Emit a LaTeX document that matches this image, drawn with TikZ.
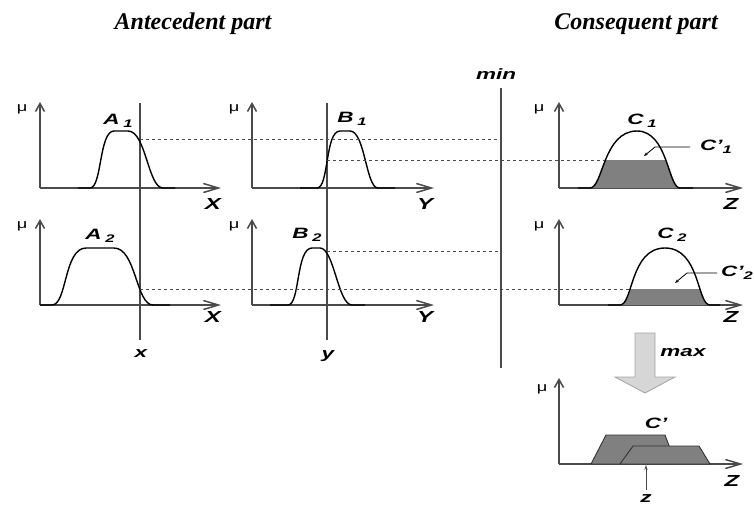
\documentclass[tikz,border=0pt]{standalone}
\usepackage{fontspec}
\setmainfont{Liberation Serif}
\setsansfont{Liberation Sans}
\usetikzlibrary{arrows.meta,positioning}
\definecolor{fuzzaxis}{HTML}{4A4A4A}
\definecolor{fuzzfill}{HTML}{808080}
\definecolor{fuzzarrow}{HTML}{D6D6D6}
\definecolor{fuzzedge}{HTML}{A3A3A3}
\newcommand{\flab}[1]{\scalebox{1.5}[1]{\sffamily\bfseries\itshape #1}}
\newcommand{\fsub}[1]{\raisebox{-3pt}{\fontsize{11}{13}\selectfont #1}}
\newcommand{\fmu}{\scalebox{1.4}[1]{\sffamily\fontsize{13}{15}\selectfont μ}}

\begin{document}
\begin{tikzpicture}[x=1pt,y=-1pt,
    axisx/.style={fuzzaxis,line width=1.5pt,-{Straight Barb[length=15pt,width=9pt]}},
    axisy/.style={fuzzaxis,line width=1.5pt,-{Straight Barb[length=8pt,width=9pt]}},
    mfcurve/.style={black,line width=1.4pt},
    cutline/.style={fuzzaxis,line width=0.6pt,dash pattern=on 3pt off 3pt},
    varline/.style={fuzzaxis,line width=1.2pt},
    lbl/.style={inner sep=0pt,font=\fontsize{15}{18}\selectfont},
    axlbl/.style={inner sep=0pt,font=\fontsize{16}{18}\selectfont},
    leader/.style={black,line width=0.8pt,-{Stealth[length=4pt,width=3pt]}}]
    \useasboundingbox (0,0) rectangle (754,506);

    % titles
    \node[anchor=base,inner sep=0pt,font=\fontsize{24}{28}\selectfont\bfseries\itshape] (ante) at (193,29) {Antecedent part};
    \node[anchor=base,inner sep=0pt,font=\fontsize{24}{28}\selectfont\bfseries\itshape] (cons) at (636,29) {Consequent part};

    % input lines and min line
    \draw[varline] (140,103) -- (140,340);
    \draw[varline] (327,103) -- (327,340);
    \draw[varline] (501,88) -- (501,368);
    \node[lbl] (inx) at (141,354) {\flab{x}};
    \node[lbl] (iny) at (328,356) {\flab{y}};
    \node[lbl] (mintxt) at (496,74) {\flab{min}};

    % axes, row 1
    \draw[axisy] (40,188) -- (40,102);
    \draw[axisx] (40,188) -- (221,188);
    \draw[axisy] (252,188) -- (252,102);
    \draw[axisx] (252,188) -- (434,188);
    \draw[axisy] (559,188) -- (559,102);
    \draw[axisx] (559,188) -- (743,188);
    % axes, row 2
    \draw[axisy] (40,305) -- (40,219);
    \draw[axisx] (40,305) -- (221,305);
    \draw[axisy] (252,305) -- (252,219);
    \draw[axisx] (252,305) -- (434,305);
    \draw[axisy] (559,305) -- (559,219);
    \draw[axisx] (559,305) -- (743,305);
    % axes, result
    \draw[axisy] (559,464) -- (559,378);
    \draw[axisx] (559,464) -- (743,464);

    \node[lbl] (mu1) at (22,109) {\fmu};
    \node[lbl] (mu2) at (234,109) {\fmu};
    \node[lbl] (mu3) at (539,109) {\fmu};
    \node[lbl] (mu4) at (22,226) {\fmu};
    \node[lbl] (mu5) at (234,226) {\fmu};
    \node[lbl] (mu6) at (539,226) {\fmu};
    \node[lbl] (mu7) at (542,389) {\fmu};

    \node[axlbl] (lx1) at (213,204) {\flab{X}};
    \node[axlbl] (ly1) at (425,204) {\flab{Y}};
    \node[axlbl] (lz1) at (731,204) {\flab{Z}};
    \node[axlbl] (lx2) at (213,317) {\flab{X}};
    \node[axlbl] (ly2) at (425,317) {\flab{Y}};
    \node[axlbl] (lz2) at (731,317) {\flab{Z}};
    \node[axlbl] (lz3) at (732,481) {\flab{Z}};

    % shaded cuts of the consequents
    \begin{scope}
        \clip (570,160) rectangle (700,188);
        \fill[fuzzfill] (590,188) .. controls (603,188) and (603,131) .. (637,131) .. controls (668,131) and (668,188) .. (680,188) -- cycle;
    \end{scope}
    \begin{scope}
        \clip (600,289) rectangle (730,305);
        \fill[fuzzfill] (620,305) .. controls (633,305) and (630,248) .. (665,248) .. controls (700,248) and (697,305) .. (710,305) -- cycle;
    \end{scope}

    % membership functions
    \draw[mfcurve] (78,188) -- (90,188) .. controls (102,188) and (99,131) .. (114,131) -- (128,131) .. controls (146,131) and (148,188) .. (163,188) -- (175,188);
    \draw[mfcurve] (300,188) -- (317,188) .. controls (329,188) and (325,131) .. (340,131) -- (350,131) .. controls (365,131) and (366,188) .. (378,188) -- (395,188);
    \draw[mfcurve] (578,188) -- (590,188) .. controls (603,188) and (603,131) .. (637,131) .. controls (668,131) and (668,188) .. (680,188) -- (693,188);
    \draw[mfcurve] (40,305) -- (52,305) .. controls (67,305) and (64,248) .. (86,248) -- (114,248) .. controls (136,248) and (136,305) .. (153,305) -- (170,305);
    \draw[mfcurve] (270,305) -- (288,305) .. controls (300,305) and (296,248) .. (312,248) -- (320,248) .. controls (334,248) and (338,305) .. (352,305) -- (365,305);
    \draw[mfcurve] (608,305) -- (620,305) .. controls (633,305) and (630,248) .. (665,248) .. controls (700,248) and (697,305) .. (710,305) -- (720,305);

    \node[lbl] (la1) at (118,121) {\flab{A\,\fsub{1}}};
    \node[lbl] (lb1) at (352,119) {\flab{B\,\fsub{1}}};
    \node[lbl] (lc1) at (642,121) {\flab{C\,\fsub{1}}};
    \node[lbl] (la2) at (100,236) {\flab{A\,\fsub{2}}};
    \node[lbl] (lb2) at (307,235) {\flab{B\,\fsub{2}}};
    \node[lbl] (lc2) at (672,235) {\flab{C\,\fsub{2}}};

    % degrees of match
    \coordinate (hA1) at (140,139);
    \coordinate (hB1) at (327,160);
    \coordinate (hA2) at (140,289);
    \coordinate (hB2) at (327,251);
    \coordinate (mA1) at (501,139);
    \coordinate (cC1) at (605,160);
    \coordinate (cC2) at (631,289);
    \coordinate (mB2) at (501,251);
    \draw[cutline] (hA1) -- (mA1);
    \draw[cutline] (hB1) -- (cC1);
    \draw[cutline] (hA2) -- (cC2);
    \draw[cutline] (hB2) -- (mB2);

    % clipped consequents
    \node[lbl,anchor=west] (lcc1) at (700,147) {\flab{C'\fsub{1}}};
    \node[lbl,anchor=west] (lcc2) at (721,273) {\flab{C'\fsub{2}}};
    \draw[leader] (lcc1.west) ++(-10,0) -- ++(-35,0) -- ++(-11,9);
    \draw[leader] (lcc2.west) ++(-4,0) -- ++(-30,0) -- ++(-12,10);

    % max aggregation
    \filldraw[fill=fuzzarrow,draw=fuzzedge,line width=0.8pt] (635,333) -- (655,333) -- (655,377) -- (675,377) -- (645,393) -- (615,377) -- (635,377) -- cycle;
    \node[lbl] (maxtxt) at (683,353) {\flab{max}};

    \filldraw[fill=fuzzfill,draw=black!80,line width=0.9pt] (591,464) -- (606,435) -- (665,435) -- (676,464) -- cycle;
    \filldraw[fill=fuzzfill,draw=black!80,line width=0.9pt] (620,464) -- (633,446) -- (699,446) -- (710,464) -- cycle;
    \node[lbl] (lcc) at (656,423) {\flab{C'}};

    \node[lbl] (outz) at (646,499) {\flab{z}};
    \draw[fuzzaxis,line width=1pt,-{Stealth[length=5pt,width=3pt]}] (outz.north) ++(0,-5) -- ++(0,-25);
\end{tikzpicture}
\end{document}
